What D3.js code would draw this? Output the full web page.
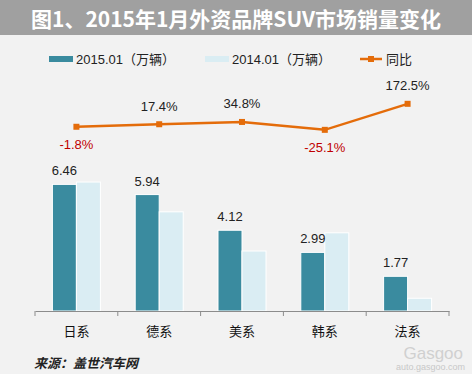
<!DOCTYPE html>
<html>
<head>
<meta charset="utf-8">
<script src="https://cdn.jsdelivr.net/npm/d3@7"></script>
<style>
  body { margin: 0; background: #f2f2f2; }
  svg { display: block; }
</style>
</head>
<body>
<svg id="chart"></svg>
<script>
var categories = ["日系", "德系", "美系", "韩系", "法系"];
var sales2015 = [6.46, 5.94, 4.12, 2.99, 1.77];
var sales2014 = [6.58, 5.06, 3.06, 3.99, 0.65];
var yoy = [-1.8, 17.4, 34.8, -25.1, 172.5];
var seriesNames = ["2015.01（万辆）", "2014.01（万辆）", "同比"];
var title = "图1、2015年1月外资品牌SUV市场销量变化";
var source = "来源：盖世汽车网";

var W = 472, H = 374;
var colors = { c2015: "#3a8b9f", c2014: "#daedf3", line: "#e46c0a", neg: "#c00000" };
var font = "'Liberation Sans', Arial, 'Noto Sans CJK SC', sans-serif";
var cjk = "'Noto Sans CJK SC', sans-serif";

var svg = d3.select("#chart").attr("width", W).attr("height", H);

svg.append("rect").attr("width", W).attr("height", H).attr("fill", "#f2f2f2");

// title bar
svg.append("rect").attr("width", W).attr("height", 35).attr("fill", "#a0a0a0");
svg.append("text")
  .attr("x", W / 2).attr("y", 18)
  .attr("text-anchor", "middle").attr("dominant-baseline", "central")
  .attr("font-family", cjk).attr("font-weight", "bold").attr("font-size", "21px")
  .attr("fill", "#ffffff")
  .text(title);

// scales
var x = d3.scaleBand().domain(categories).range([35, 449]);
var y = d3.scaleLinear().domain([0, 8]).range([311, 154.2]);
var y2 = d3.scaleLinear().domain([-100, 200]).range([139.7, 100.2]);
var barW = 24;

// bars
var g = svg.append("g");
g.selectAll("rect.b15").data(sales2015).enter().append("rect")
  .attr("class", "b15")
  .attr("x", function(d, i) { return x(categories[i]) + x.bandwidth() / 2 - barW; })
  .attr("y", function(d) { return y(d); })
  .attr("width", barW)
  .attr("height", function(d) { return y(0) - y(d); })
  .attr("fill", colors.c2015).attr("stroke", "#ffffff").attr("stroke-width", 1);

g.selectAll("rect.b14").data(sales2014).enter().append("rect")
  .attr("class", "b14")
  .attr("x", function(d, i) { return x(categories[i]) + x.bandwidth() / 2; })
  .attr("y", function(d) { return y(d); })
  .attr("width", barW)
  .attr("height", function(d) { return y(0) - y(d); })
  .attr("fill", colors.c2014).attr("stroke", "#ffffff").attr("stroke-width", 1);

g.selectAll("text.lab").data(sales2015).enter().append("text")
  .attr("class", "lab")
  .attr("x", function(d, i) { return x(categories[i]) + x.bandwidth() / 2 - barW / 2; })
  .attr("y", function(d) { return y(d) - 9; })
  .attr("text-anchor", "middle")
  .attr("font-family", font).attr("font-size", "13px").attr("fill", "#222")
  .text(function(d) { return d.toFixed(2); });

// axis
var axis = svg.append("g").attr("transform", "translate(0,311)")
  .call(d3.axisBottom(x).tickSize(0).tickPadding(16));
axis.select(".domain").attr("stroke", "#8c8c8c");
axis.selectAll("text").attr("font-family", cjk).attr("font-size", "13px").attr("fill", "#111");
var bounds = categories.map(function(c) { return x(c); }).concat([x.range()[1]]);
axis.selectAll("line.tk").data(bounds).enter().append("line")
  .attr("class", "tk")
  .attr("x1", function(d) { return d; }).attr("x2", function(d) { return d; })
  .attr("y1", 0).attr("y2", 5)
  .attr("stroke", "#8c8c8c");

// line
var cx = function(d, i) { return x(categories[i]) + x.bandwidth() / 2; };
svg.append("path").datum(yoy)
  .attr("d", d3.line().x(cx).y(function(d) { return y2(d); }))
  .attr("fill", "none").attr("stroke", colors.line).attr("stroke-width", 2.5);
svg.selectAll("rect.mk").data(yoy).enter().append("rect")
  .attr("class", "mk")
  .attr("x", function(d, i) { return cx(d, i) - 3; })
  .attr("y", function(d) { return y2(d) - 3; })
  .attr("width", 6).attr("height", 6)
  .attr("fill", colors.line);
svg.selectAll("text.pct").data(yoy).enter().append("text")
  .attr("class", "pct")
  .attr("x", cx)
  .attr("y", function(d) { return d < 0 ? y2(d) + 18 : y2(d) - 18; })
  .attr("text-anchor", "middle").attr("dominant-baseline", "central")
  .attr("font-family", font).attr("font-size", "13px")
  .attr("fill", function(d) { return d < 0 ? colors.neg : "#222"; })
  .text(function(d) { return d.toFixed(1) + "%"; });

// legend
var lg = svg.append("g").attr("font-family", font).attr("font-size", "13px").attr("fill", "#222");
lg.append("rect").attr("x", 49).attr("y", 56).attr("width", 24).attr("height", 6).attr("fill", colors.c2015);
lg.append("text").attr("x", 76).attr("y", 59).attr("dominant-baseline", "central").text(seriesNames[0]);
lg.append("rect").attr("x", 205).attr("y", 56).attr("width", 24).attr("height", 6).attr("fill", colors.c2014);
lg.append("text").attr("x", 232).attr("y", 59).attr("dominant-baseline", "central").text(seriesNames[1]);
lg.append("line").attr("x1", 360).attr("x2", 382).attr("y1", 59).attr("y2", 59)
  .attr("stroke", colors.line).attr("stroke-width", 2.5);
lg.append("rect").attr("x", 368).attr("y", 56).attr("width", 6).attr("height", 6).attr("fill", colors.line);
lg.append("text").attr("x", 386).attr("y", 59).attr("dominant-baseline", "central").text(seriesNames[2]);

// source
svg.append("text")
  .attr("x", 34).attr("y", 362)
  .attr("dominant-baseline", "central")
  .attr("font-family", cjk).attr("font-style", "italic").attr("font-weight", "bold")
  .attr("font-size", "13px").attr("fill", "#222")
  .text(source);

// watermark
svg.append("text").attr("x", 463).attr("y", 359).attr("text-anchor", "end")
  .attr("font-family", font).attr("font-size", "17px").attr("fill", "#d0d0d0").text("Gasgoo");
svg.append("text").attr("x", 465).attr("y", 370).attr("text-anchor", "end")
  .attr("font-family", font).attr("font-size", "9px").attr("fill", "#c8c8c8").text("auto.gasgoo.com");
</script>
</body>
</html>
